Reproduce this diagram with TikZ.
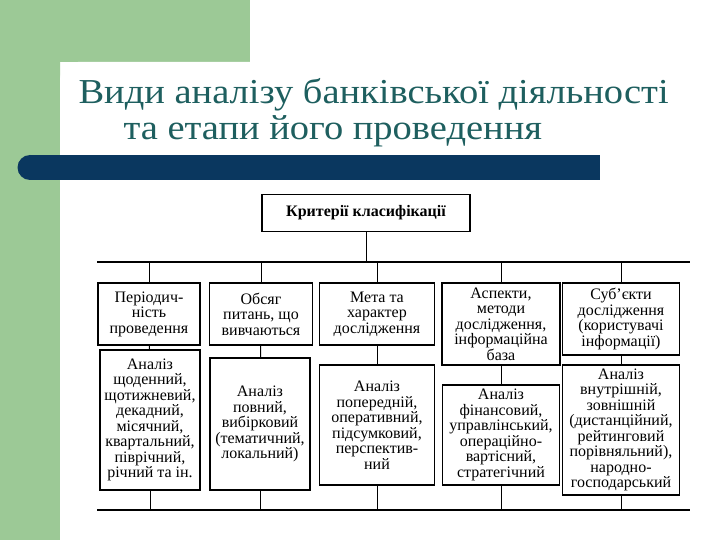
\documentclass[tikz,border=0pt]{standalone}
\usepackage{fontspec}
\setmainfont{Liberation Serif}
\definecolor{sgreen}{RGB}{156,201,150}
\definecolor{sblue}{RGB}{10,55,95}
\definecolor{steal}{RGB}{30,95,95}
\begin{document}
\begin{tikzpicture}[x=1pt,y=-1pt,
  bx/.style={draw,line width=1.2pt,align=center,font=\fontsize{16}{15.5}\selectfont,inner sep=1pt},
  ln/.style={line width=1pt}]
\useasboundingbox (0,0) rectangle (720,540);
\fill[white] (0,0) rectangle (720,540);
\fill[sgreen] (0,0) rectangle (250,62) (0,0) rectangle (60,540);
\fill[white] (60,540) -- (60,80) arc[start angle=180,end angle=270,radius=18] -- (250,62) -- (250,0) -- (720,0) -- (720,540) -- cycle;
\fill[sblue] (30,155) rectangle (600,180);
\fill[sblue] (30,167.5) circle[radius=12.5];
\node[anchor=base west,text=steal,font=\fontsize{35}{35}\selectfont] (t1) at (75,104) {\scalebox{1.1}[1]{Види аналізу банківської діяльності}};
\node[anchor=base west,text=steal,font=\fontsize{35}{35}\selectfont] (t2) at (120,140) {\scalebox{1.1}[1]{та етапи його проведення}};
\node[bx,minimum width=208,minimum height=37,font=\bfseries\fontsize{16}{16}\selectfont] (top) at (366,213) {Критерії класифікації};
\coordinate (l1) at (97,262); \coordinate (r1) at (690,262);
\coordinate (l2) at (97,510); \coordinate (r2) at (690,510);
\draw[line width=1.8pt] (l1) -- (r1);
\draw[line width=1.8pt] (l2) -- (r2);
\draw[ln] (top) -- (366,262);
\node[bx,minimum width=102,minimum height=62] (c1) at (149,314) {Періодич-\\ність\\проведення};
\node[bx,minimum width=103,minimum height=62] (c2) at (261,314) {Обсяг\\питань, що\\вивчаються};
\node[bx,minimum width=115,minimum height=62] (c3) at (377,314) {Мета та\\характер\\дослідження};
\node[bx,minimum width=118,minimum height=82] (c4) at (501,324) {Аспекти,\\методи\\дослідження,\\інформаційна\\база};
\node[bx,minimum width=117,minimum height=72] (c5) at (621,319) {Суб'єкти\\дослідження\\(користувачі\\інформації)};
\node[bx,minimum width=100,minimum height=140] (d1) at (150,420) {Аналіз\\щоденний,\\щотижневий,\\декадний,\\місячний,\\квартальний,\\піврічний,\\річний та ін.};
\node[bx,minimum width=100,minimum height=132] (d2) at (260,424) {Аналіз\\повний,\\вибірковий\\(тематичний,\\локальний)};
\node[bx,minimum width=115,minimum height=120] (d3) at (377,425) {Аналіз\\попередній,\\оперативний,\\підсумковий,\\перспектив-\\ний};
\node[bx,minimum width=117,minimum height=100] (d4) at (501,435) {Аналіз\\фінансовий,\\управлінський,\\операційно-\\вартісний,\\стратегічний};
\node[bx,minimum width=117,minimum height=130] (d5) at (621,430) {Аналіз\\внутрішній,\\зовнішній\\(дистанційний,\\рейтинговий\\порівняльний),\\народно-\\господарський};
\foreach \i in {1,...,5}{
  \draw[ln] (c\i.north) -- (c\i.north |- l1);
  \draw[ln] (c\i) -- (d\i);
  \draw[ln] (d\i.south) -- (d\i.south |- l2);
}
\end{tikzpicture}
\end{document}
